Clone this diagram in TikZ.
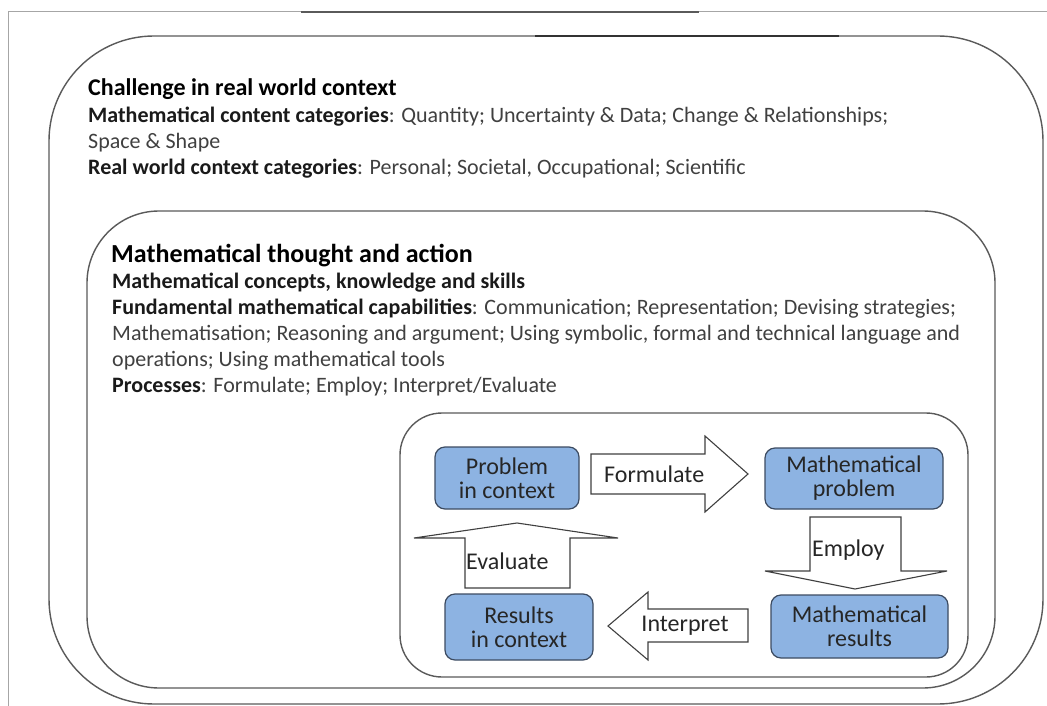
\documentclass[tikz,border=0pt]{standalone}
\usepackage{fontspec}
\setmainfont{Carlito}
\definecolor{linegray}{HTML}{5A5A5A}
\definecolor{framegray}{HTML}{A6A6A6}
\definecolor{boxfill}{HTML}{8DB3E2}
\definecolor{boxborder}{HTML}{3C4B61}
\definecolor{boxtext}{HTML}{262626}
\definecolor{arrowline}{HTML}{404040}
\definecolor{bodytext}{HTML}{404040}
\definecolor{boldtext}{HTML}{1A1A1A}
\newcommand\hb[1]{{\bfseries\color{boldtext}#1}}
\begin{document}
\begin{tikzpicture}[x=1pt,y=-1pt,
  container/.style={draw=linegray, line width=1.4pt, inner sep=0pt},
  stage/.style={draw=boxborder, fill=boxfill, rounded corners=10pt, line width=1.2pt, align=center,
    font=\fontsize{24}{24}\selectfont, text=boxtext, inner sep=0pt},
  blockarrow/.style={draw=arrowline, fill=white, line width=1.1pt, line join=miter},
  arrowlabel/.style={font=\fontsize{24}{24}\selectfont, text=boxtext, inner sep=0pt},
  headline/.style={anchor=base west, inner sep=0pt, font=\bfseries\fontsize{24}{28}\selectfont, text=black},
  bodyline/.style={anchor=base west, inner sep=0pt, font=\fontsize{22}{26}\selectfont, text=bodytext},
]
\useasboundingbox (0,0) rectangle (1047,706);
\fill[white] (0,0) rectangle (1047,706);
% page frame
\coordinate (fa) at (8.5,706);
\coordinate (fb) at (8.5,12);
\coordinate (fc) at (1047,12);
\draw[framegray, line width=1pt] (fa) -- (fb) -- (fc);
\coordinate (da) at (301,12);
\coordinate (db) at (699,12);
\draw[linegray, line width=1.6pt] (da) -- (db);

% containers
\node[container, minimum width=994pt, minimum height=668pt, rounded corners=105pt] (outer) at (546,370) {};
\node[container, minimum width=908pt, minimum height=477pt, rounded corners=72pt] (mid) at (541,449.5) {};
\node[container, minimum width=568pt, minimum height=264pt, rounded corners=42pt] (inner) at (684,545) {};
\coordinate (oa) at (535,36);
\coordinate (ob) at (839,36);
\draw[black!80, line width=1.8pt] (oa) -- (ob);

% outer texts
\node[headline] (t1) at (88,96) {Challenge in real world context};
\node[bodyline] (t2) at (88,123) {\hb{Mathematical content categories}: Quantity; Uncertainty \& Data; Change \& Relationships;};
\node[bodyline] (t3) at (88,149) {Space \& Shape};
\node[bodyline] (t4) at (88,175) {\hb{Real world context categories}: Personal; Societal, Occupational; Scientific};

% middle texts
\node[headline, font=\bfseries\fontsize{26}{30}\selectfont] (m1) at (111,262) {Mathematical thought and action};
\node[bodyline] (m2) at (112,288) {\hb{Mathematical concepts, knowledge and skills}};
\node[bodyline] (m3) at (112,314) {\hb{Fundamental mathematical capabilities}: Communication; Representation; Devising strategies;};
\node[bodyline] (m4) at (112,340) {Mathematisation; Reasoning and argument; Using symbolic, formal and technical language and};
\node[bodyline] (m5) at (112,366) {operations; Using mathematical tools};
\node[bodyline] (m6) at (112,392) {\hb{Processes}: Formulate; Employ; Interpret/Evaluate};

% stages
\node[stage, minimum width=144pt, minimum height=62pt] (pc) at (507,478) {Problem\\in context};
\node[stage, minimum width=178pt, minimum height=61pt] (mp) at (854,478.5) {Mathematical\\problem};
\node[stage, minimum width=177pt, minimum height=63pt] (mr) at (859.5,626.5) {Mathematical\\results};
\node[stage, minimum width=148pt, minimum height=66pt] (rc) at (519,627) {Results\\in context};

% block arrows
\draw[blockarrow] (591,454) -- (705,454) -- (705,436) -- (748,474) -- (705,512) -- (705,494) -- (591,494) -- cycle;
\draw[blockarrow] (810,517) -- (901,517) -- (901,571) -- (947,571) -- (855,589) -- (765,571) -- (810,571) -- cycle;
\draw[blockarrow] (748,609) -- (648,609) -- (648,592) -- (608,626) -- (648,660) -- (648,642) -- (748,642) -- cycle;
\draw[blockarrow] (465,588) -- (570,588) -- (570,538) -- (618,538) -- (517,523) -- (414,538) -- (465,538) -- cycle;

\node[arrowlabel, anchor=west] (lf) at (604,474) {Formulate};
\node[arrowlabel, anchor=west] (le) at (812,550) {Employ};
\node[arrowlabel] (li) at (685,626) {Interpret};
\node[arrowlabel, anchor=west] (lv) at (466,561) {Evaluate};
\end{tikzpicture}
\end{document}
